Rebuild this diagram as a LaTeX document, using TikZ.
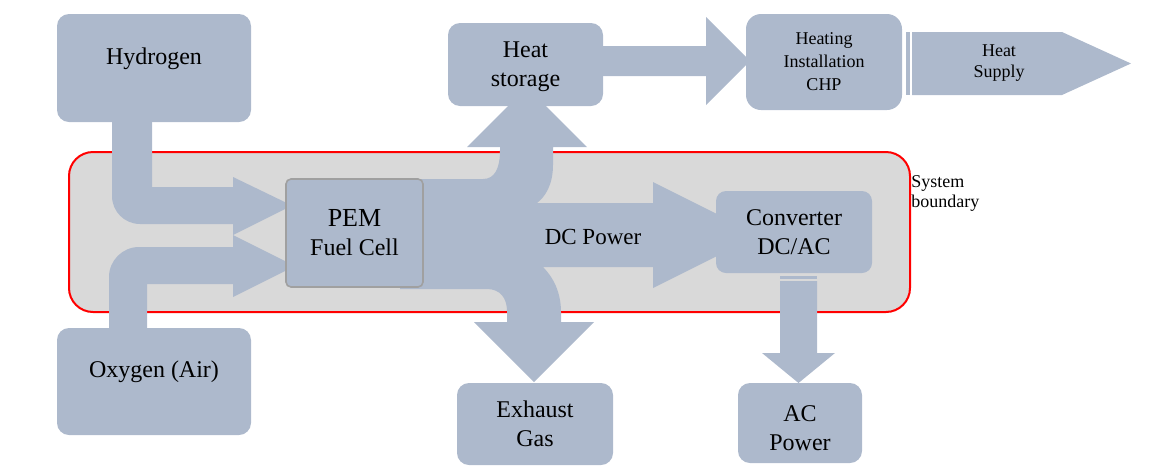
\documentclass[tikz,border=0pt]{standalone}
\usepackage{fontspec}
\setmainfont{Liberation Serif}
\usetikzlibrary{positioning, calc}
\definecolor{FlowBlue}{RGB}{173,185,204}
\definecolor{BoundGray}{RGB}{217,217,217}
\definecolor{CellEdge}{RGB}{160,160,160}
\begin{document}
\begin{tikzpicture}[x=0.5pt, y=-0.5pt,
        flow/.style={fill=FlowBlue},
        block/.style={fill=FlowBlue, rounded corners=6pt, align=center, inner sep=2pt,
            font=\fontsize{12}{14.5}\selectfont},
        smallblock/.style={block, rounded corners=7.5pt, font=\fontsize{9}{11.5}\selectfont},
        tag/.style={align=center, inner sep=0pt}]
        \useasboundingbox (0,0) rectangle (1169,467);
        % System boundary
        \draw [red, line width=1pt, fill=BoundGray, rounded corners=12pt] (69,152) rectangle (910,312);
        % Hydrogen and oxygen feeds
        \fill [flow] (112,118) -- (112,196) .. controls (112,211.5) and (124.5,224) .. (140,224)
            -- (233,224) -- (233,235) -- (292,205.5) -- (233,177) -- (233,187) -- (152,187) -- (152,118) -- cycle;
        \fill [flow] (109,335) -- (109,277) .. controls (109,260.5) and (122.5,247) .. (139,247)
            -- (233,247) -- (233,235) -- (295,266) -- (233,297) -- (233,284) -- (147,284) -- (147,335) -- cycle;
        % Outputs of the fuel cell: heat, DC power, exhaust
        \fill [flow] (400,179) -- (483,179) .. controls (495,179) and (500,168) .. (500,150)
            -- (500,147) -- (467,147) -- (527,87) -- (587,147) -- (553,147) -- (553,165)
            .. controls (553,185) and (545,197) .. (537,203)
            -- (653,203) -- (653,182) -- (759,235) -- (653,288) -- (653,267) -- (543,267)
            .. controls (553,277) and (561,292) .. (561,312)
            -- (561,322) -- (594,322) -- (534,382) -- (474,322) -- (507,322) -- (507,311)
            .. controls (507,298) and (500,289) .. (487,289) -- (400,289) -- cycle;
        % Heat to the heating installation
        \fill [flow] (600,46) -- (706,46) -- (706,17) -- (750,61) -- (706,105) -- (706,76) -- (600,76) -- cycle;
        % Heat supply
        \fill [flow] (906,32) rectangle (910,95);
        \fill [flow] (912,32) -- (1062,32) -- (1131,63.5) -- (1062,95) -- (912,95) -- cycle;
        % AC power out of the converter
        \fill [flow] (780,275.5) rectangle (817,278.5);
        \fill [flow] (780,281) -- (780,353) -- (762,353) -- (798.5,383) -- (835,353) -- (817,353) -- (817,281) -- cycle;
        % Blocks
        \node [block, minimum width=97pt, minimum height=54pt, text depth=12pt] (h2) at (154,68) {Hydrogen};
        \node [block, minimum width=97pt, minimum height=53.5pt, text depth=12pt] (o2) at (154,381.5) {Oxygen (Air)};
        \node [block, draw=CellEdge, line width=0.8pt, rounded corners=2.5pt, minimum width=68.5pt, minimum height=54pt,
            font=\fontsize{13}{14.5}\selectfont] (pem) at (354.5,233) {PEM\\{\fontsize{12}{14.5}\selectfont Fuel Cell}};
        \node [block, minimum width=77.5pt, minimum height=41.5pt, text depth=0pt] (store) at (525.5,64.5) {Heat\\storage};
        \node [smallblock, minimum width=78pt, minimum height=48pt] (chp) at (824,62) {Heating\\Installation\\CHP};
        \node [block, rounded corners=5pt, minimum width=78pt, minimum height=41pt] (conv) at (794,232) {Converter\\DC/AC};
        \node [block, minimum width=78pt, minimum height=41pt] (exhaust) at (535,424) {Exhaust\\Gas};
        \node [block, minimum width=62pt, minimum height=40pt, text height=28pt] (acpow) at (800,423) {AC\\Power};
        % Labels
        \node [tag, font=\fontsize{11.5}{13}\selectfont] (dclabel) at (593,237) {DC Power};
        \node [tag, font=\fontsize{9}{10.5}\selectfont] (supply) at (999,63) {Heat\\Supply};
        \node [tag, anchor=west, align=left, font=\fontsize{9}{10}\selectfont] (bound) at (911,193) {System\\boundary};
    \end{tikzpicture}
\end{document}
